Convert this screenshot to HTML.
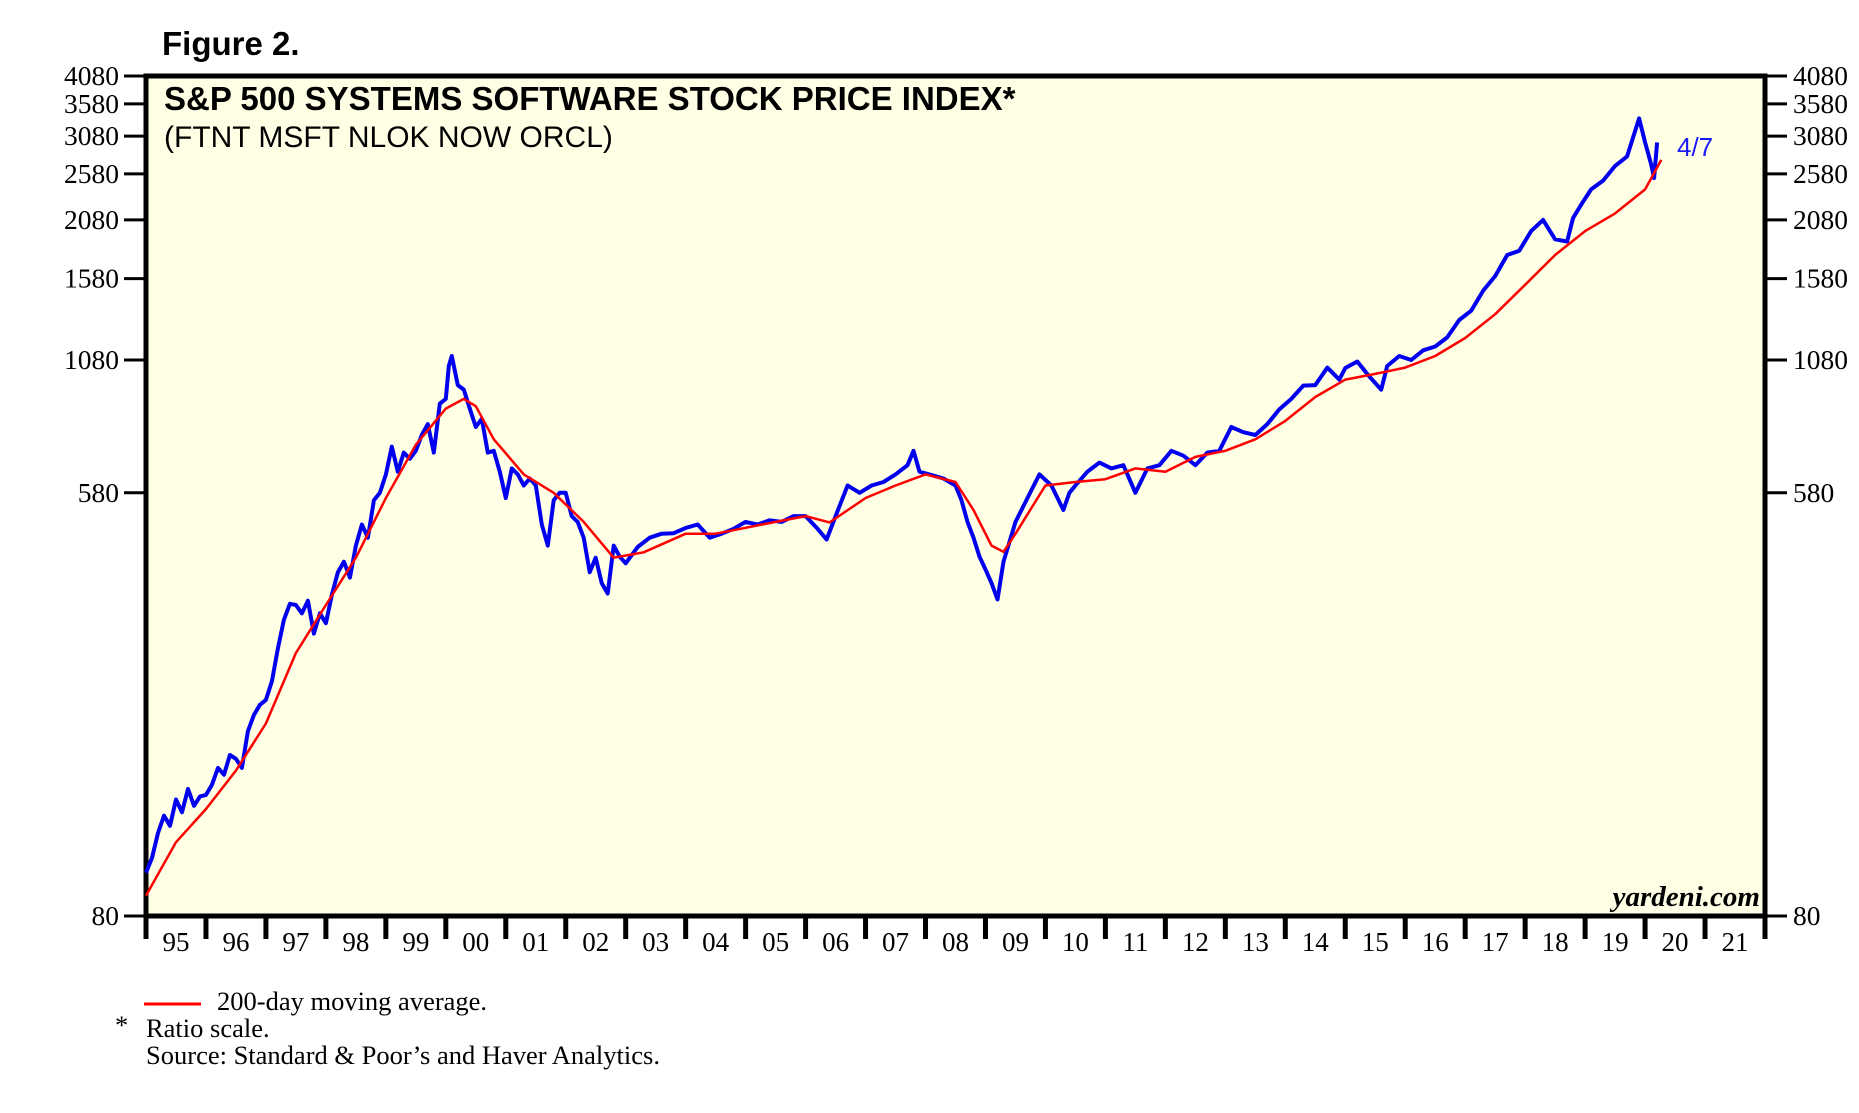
<!DOCTYPE html>
<html><head><meta charset="utf-8"><style>
html,body{margin:0;padding:0;background:#fff;}
svg{display:block;}
</style></head><body>
<svg id="chart" width="1859" height="1113" xmlns="http://www.w3.org/2000/svg">
<text x="162" y="55" font-family="Liberation Sans, sans-serif" font-weight="bold" font-size="33">Figure 2.</text>
<rect x="146" y="76" width="1619" height="840" fill="#FFFFE6" stroke="#000" stroke-width="5"/>
<text x="164" y="110" font-family="Liberation Sans, sans-serif" font-weight="bold" font-size="33">S&amp;P 500 SYSTEMS SOFTWARE STOCK PRICE INDEX*</text>
<text x="164" y="147" font-family="Liberation Sans, sans-serif" font-size="30">(FTNT MSFT NLOK NOW ORCL)</text>
<text x="1760" y="906" text-anchor="end" font-family="Liberation Serif, serif" font-style="italic" font-weight="bold" font-size="29">yardeni.com</text>
<g id="axes"></g>
<g id="series"></g>
<text x="1677" y="156" fill="#1a1aff" font-family="Liberation Sans, sans-serif" font-size="26">4/7</text>
<line x1="144" y1="1004" x2="201" y2="1004" stroke="#f00" stroke-width="3"/>
<text x="217" y="1010" font-family="Liberation Serif, serif" font-size="26.5">200-day moving average.</text>
<text x="115" y="1034" font-family="Liberation Serif, serif" font-size="26.5">*</text>
<text x="146" y="1037" font-family="Liberation Serif, serif" font-size="26.5">Ratio scale.</text>
<text x="146" y="1064" font-family="Liberation Serif, serif" font-size="26.5">Source: Standard &amp; Poor’s and Haver Analytics.</text>
</svg>
<script>
const yTicks = [80, 580, 1080, 1580, 2080, 2580, 3080, 3580, 4080];
const yearLabels = ["95","96","97","98","99","00","01","02","03","04","05","06","07","08","09","10","11","12","13","14","15","16","17","18","19","20","21"];
const priceYears = [1995.0,1995.1,1995.2,1995.3,1995.4,1995.5,1995.6,1995.7,1995.8,1995.9,1996.0,1996.1,1996.2,1996.3,1996.4,1996.5,1996.6,1996.7,1996.8,1996.9,1997.0,1997.1,1997.2,1997.3,1997.4,1997.5,1997.6,1997.7,1997.8,1997.9,1998.0,1998.1,1998.2,1998.3,1998.4,1998.5,1998.6,1998.7,1998.8,1998.9,1999.0,1999.1,1999.2,1999.3,1999.4,1999.5,1999.6,1999.7,1999.8,1999.9,2000.0,2000.05,2000.1,2000.2,2000.3,2000.4,2000.5,2000.6,2000.7,2000.8,2000.9,2001.0,2001.1,2001.2,2001.3,2001.4,2001.5,2001.6,2001.7,2001.8,2001.9,2002.0,2002.1,2002.2,2002.3,2002.4,2002.5,2002.6,2002.7,2002.8,2002.9,2003.0,2003.2,2003.4,2003.6,2003.8,2004.0,2004.2,2004.4,2004.6,2004.8,2005.0,2005.2,2005.4,2005.6,2005.8,2006.0,2006.2,2006.35,2006.5,2006.7,2006.9,2007.1,2007.3,2007.5,2007.7,2007.8,2007.9,2008.1,2008.3,2008.5,2008.6,2008.7,2008.8,2008.9,2009.0,2009.1,2009.2,2009.3,2009.5,2009.7,2009.9,2010.1,2010.3,2010.4,2010.5,2010.7,2010.9,2011.1,2011.3,2011.5,2011.7,2011.9,2012.1,2012.3,2012.5,2012.7,2012.9,2013.1,2013.3,2013.5,2013.7,2013.9,2014.1,2014.3,2014.5,2014.7,2014.9,2015.0,2015.2,2015.4,2015.6,2015.7,2015.9,2016.1,2016.3,2016.5,2016.7,2016.9,2017.1,2017.3,2017.5,2017.7,2017.9,2018.1,2018.3,2018.5,2018.7,2018.8,2018.95,2019.1,2019.3,2019.5,2019.7,2019.9,2020.0,2020.1,2020.15,2020.2,2020.25,2020.27];
const priceValues = [98,105,118,128,122,138,130,145,134,140,141,148,160,155,170,167,160,190,205,215,220,240,280,320,345,343,330,350,300,330,315,360,400,420,390,453,500,470,560,580,632,720,640,700,680,706,760,800,700,880,900,1050,1100,960,940,860,789,820,700,706,640,566,650,632,600,620,600,500,453,560,580,580,520,506,470,400,428,380,362,453,430,417,450,470,479,480,492,500,470,479,490,506,500,510,506,520,520,490,466,520,600,580,600,610,632,660,706,640,630,620,600,560,506,470,430,405,380,352,420,506,566,632,600,535,580,600,640,668,650,660,580,650,660,706,690,660,700,706,789,770,760,800,857,900,958,960,1042,985,1040,1072,1000,940,1050,1100,1080,1130,1150,1200,1302,1360,1494,1600,1765,1800,1974,2080,1900,1880,2100,2250,2400,2500,2678,2800,3345,2990,2700,2530,2990];
const maYears = [1995.0,1995.5,1996.0,1996.5,1997.0,1997.5,1998.0,1998.5,1999.0,1999.5,2000.0,2000.3,2000.5,2000.8,2001.3,2001.8,2002.3,2002.8,2003.3,2004.0,2004.5,2005.5,2006.0,2006.4,2007.0,2007.5,2008.0,2008.5,2008.8,2009.1,2009.3,2009.5,2010.0,2010.5,2011.0,2011.5,2012.0,2012.5,2013.0,2013.5,2014.0,2014.5,2015.0,2015.5,2016.0,2016.5,2017.0,2017.5,2018.0,2018.5,2019.0,2019.5,2020.0,2020.27];
const maValues = [88,113,132,158,197,274,343,428,566,726,860,900,870,745,632,580,506,428,439,479,479,506,520,505,566,600,632,610,535,453,440,479,600,610,618,650,640,686,706,745,812,908,985,1012,1042,1100,1197,1338,1535,1765,1974,2145,2400,2755];

const X0 = 146, X1 = 1765, YTOP = 76, YBOT = 916, VMIN = 80, VMAX = 4080;
const xScale = yr => X0 + (yr - 1995) * (X1 - X0) / 27;
const yScale = v => YBOT - Math.log(v / VMIN) / Math.log(VMAX / VMIN) * (YBOT - YTOP);
const NS = "http://www.w3.org/2000/svg";
const axes = document.getElementById("axes");
const series = document.getElementById("series");
function mk(tag, attrs, parent) {
  const e = document.createElementNS(NS, tag);
  for (const k in attrs) e.setAttribute(k, attrs[k]);
  parent.appendChild(e);
  return e;
}
yTicks.forEach(v => {
  const y = yScale(v);
  const l1 = mk("line", {x1: 124, x2: 144, y1: y, y2: y, stroke: "#000", "stroke-width": 3}, axes);
  
  
  const l2 = mk("line", {x1: 1767, x2: 1787, y1: y, y2: y, stroke: "#000", "stroke-width": 3}, axes);
  
  
  const t1 = mk("text", {x: 119, y: y + 9, "text-anchor": "end", "font-family": "Liberation Serif, serif", "font-size": 27.5}, axes);
  t1.textContent = v;
  
  
  const t2 = mk("text", {x: 1793, y: y + 9, "font-family": "Liberation Serif, serif", "font-size": 27.5}, axes);
  t2.textContent = v;
  
  
});
for (let i = 0; i <= yearLabels.length; i++) {
  const x = xScale(1995 + i);
  const tk = mk("line", {x1: x, x2: x, y1: 916, y2: 939, stroke: "#000", "stroke-width": 5}, axes);
  
  
}
yearLabels.forEach((lab, i) => {
  const t = mk("text", {x: xScale(1995 + i + 0.5), y: 951, "text-anchor": "middle", "font-family": "Liberation Serif, serif", "font-size": 27}, axes);
  t.textContent = lab;
  
  
});
const pricePts = priceYears.map((yr, i) => xScale(yr).toFixed(1) + "," + yScale(priceValues[i]).toFixed(1)).join(" ");
const pl = mk("polyline", {points: pricePts, fill: "none", stroke: "#0000ee", "stroke-width": 4, "stroke-linejoin": "round"}, series);


const maPts = maYears.map((yr, i) => xScale(yr).toFixed(1) + "," + yScale(maValues[i]).toFixed(1)).join(" ");
const ml = mk("polyline", {points: maPts, fill: "none", stroke: "#ff0000", "stroke-width": 2.5, "stroke-linejoin": "round"}, series);


</script>
</body></html>
